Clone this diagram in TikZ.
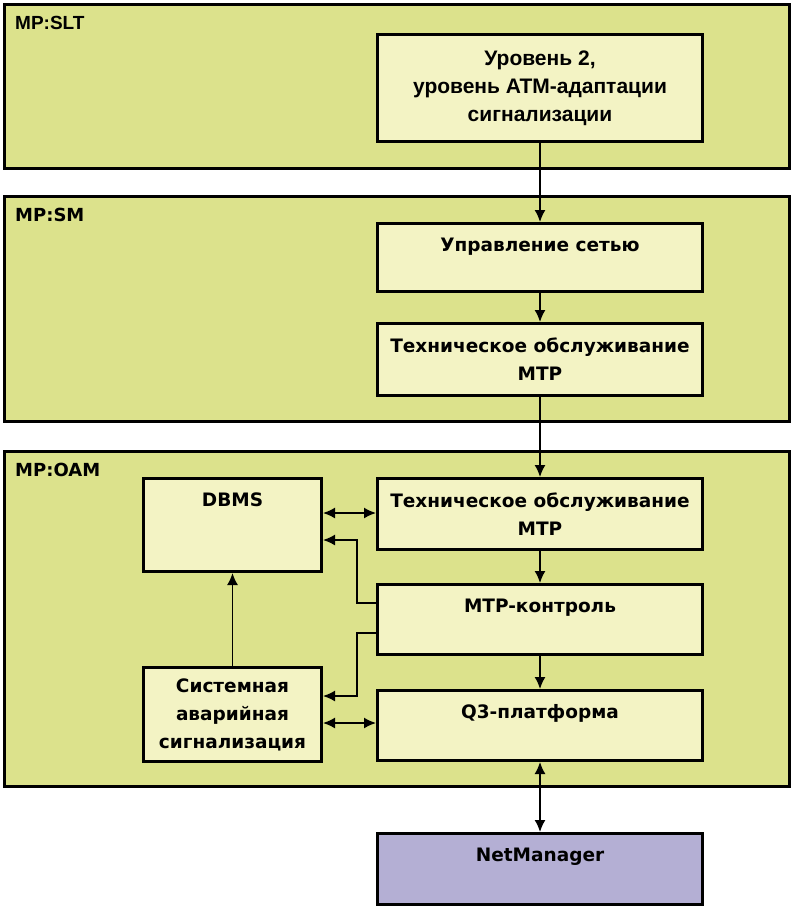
\documentclass[tikz,border=0pt]{standalone}
\usepackage{fontspec}
\setmainfont{DejaVu Sans}
\newfontfamily\narrowfont{Liberation Sans}
\usetikzlibrary{arrows.meta}

\definecolor{panelfill}{HTML}{DCE28C}
\definecolor{blockfill}{HTML}{F3F3C4}
\definecolor{mgrfill}{HTML}{B4AFD4}

\tikzset{
  panel/.style={draw, line width=3pt, fill=panelfill, anchor=north west, inner sep=0pt},
  paneltitle/.style={anchor=north west, font=\bfseries\fontsize{18}{20}\selectfont, inner sep=0pt,
    xshift=12pt, yshift=-13pt},
  block/.style={draw, line width=3pt, fill=blockfill, anchor=north west, inner sep=0pt,
    align=center, font=\bfseries\fontsize{18.5}{28}\selectfont},
  toptext/.style={anchor=north, font=\bfseries\fontsize{18.5}{28}\selectfont, yshift=-12pt},
  link/.style={line width=1.6pt, -{Latex[length=12pt,width=11pt]}},
  biglink/.style={line width=1.6pt, {Latex[length=12pt,width=11pt]}-{Latex[length=12pt,width=11pt]}},
}

\begin{document}
\begin{tikzpicture}[x=1pt, y=-1pt]
  \useasboundingbox (0,0) rectangle (792,906);

  % layers
  \node[panel, minimum width=785pt, minimum height=164pt,
    label={[paneltitle, font=\narrowfont\bfseries\fontsize{19}{20}\selectfont]north west:{MP:SLT}}] (slt) at (3,3) {};
  \node[panel, minimum width=785pt, minimum height=225pt, label={[paneltitle]north west:{MP:SM}}] (sm) at (3,195) {};
  \node[panel, minimum width=785pt, minimum height=335pt, label={[paneltitle]north west:{MP:OAM}}] (oam) at (3,450) {};

  % MP:SLT
  \node[block, minimum width=325pt, minimum height=107pt, font=\narrowfont\bfseries\fontsize{21}{28}\selectfont] (lvl2) at (376,33)
    {Уровень 2,\\уровень ATM-адаптации\\сигнализации};

  % MP:SM
  \node[block, minimum width=325pt, minimum height=68pt, label={[toptext]north:Управление сетью}] (netctl) at (376,222) {};
  \node[block, minimum width=325pt, minimum height=72pt] (smmaint) at (376,322)
    {Техническое обслуживание\\MTP};

  % MP:OAM
  \node[block, minimum width=325pt, minimum height=71pt] (oammaint) at (376,477)
    {Техническое обслуживание\\MTP};
  \node[block, minimum width=325pt, minimum height=70pt, label={[toptext]north:MTP-контроль}] (ctrl) at (376,583) {};
  \node[block, minimum width=325pt, minimum height=70pt, label={[toptext]north:Q3-платформа}] (q3) at (376,689) {};
  \node[block, minimum width=178pt, minimum height=93pt, label={[toptext]north:DBMS}] (dbms) at (142,477) {};
  \node[block, minimum width=178pt, minimum height=94pt] (alarm) at (142,666)
    {Системная\\аварийная\\сигнализация};

  % manager
  \node[block, fill=mgrfill, minimum width=325pt, minimum height=71pt, label={[toptext]north:NetManager}] (mgr) at (376,832) {};

  \draw[link] (lvl2.south) -- (netctl.north);
  \draw[link] (netctl.south) -- (smmaint.north);
  \draw[link] (smmaint.south) -- (oammaint.north);
  \draw[link] (oammaint.south) -- (ctrl.north);
  \draw[link] (ctrl.south) -- (q3.north);
  \draw[biglink] (q3.south) -- (mgr.north);
  \draw[biglink] (dbms.east |- 0,513) -- (oammaint.west |- 0,513);
  \draw[biglink] (alarm.east |- 0,723) -- (q3.west |- 0,723);
  \draw[link] (alarm.north) -- (dbms.south -| alarm.north);
  \draw[link] (ctrl.west |- 0,603) -- (357,603) |- (dbms.east |- 0,540);
  \draw[link] (ctrl.west |- 0,633) -- (357,633) |- (alarm.east |- 0,696);
\end{tikzpicture}
\end{document}
